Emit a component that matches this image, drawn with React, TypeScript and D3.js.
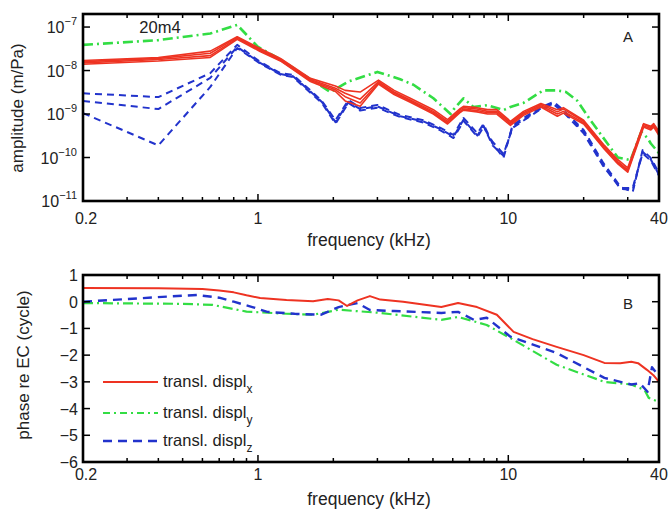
import React from "react";
import * as d3 from "d3";

// ---------- DATA ----------
const xTickLabels = ["0.2", "1", "10", "40"];
const xTickValues = [0.2, 1, 10, 40];
const xMinorTicks = [0.3, 0.4, 0.5, 0.6, 0.7, 0.8, 0.9, 2, 3, 4, 5, 6, 7, 8, 9, 20, 30];
const ampTickValues = [1e-7, 1e-8, 1e-9, 1e-10, 1e-11];
const ampTickExps = ["−7", "−8", "−9", "−10", "−11"];
const phaseTickValues = [1, 0, -1, -2, -3, -4, -5, -6];
const phaseTickLabels = ["1", "0", "−1", "−2", "−3", "−4", "−5", "−6"];

// amplitude, y (green dash-dot)
const greenFreq = [0.2, 0.4, 0.645, 0.826, 1.0, 1.23, 1.57, 1.95, 2.3, 3.0, 3.7, 4.18, 5.02, 5.88, 6.04, 6.62, 7.26, 8.26, 9.57, 10.2, 11.5, 13.8, 15.7, 17, 18.9, 21.3, 24.9, 27.4, 30.8, 34, 36, 37.1, 40];
const greenAmp = [3.9e-8, 5.0e-8, 7.1e-8, 1.12e-7, 3.5e-8, 1.8e-8, 7.1e-9, 3.2e-9, 5.6e-9, 9.3e-9, 6.3e-9, 4.7e-9, 2.3e-9, 1.0e-9, 1.26e-9, 2.3e-9, 1.45e-9, 1.6e-9, 1.23e-9, 1.45e-9, 1.8e-9, 3.5e-9, 3.5e-9, 3.2e-9, 2.0e-9, 7.2e-10, 2.1e-10, 1.0e-10, 8.7e-11, 3.9e-10, 2.8e-10, 2.1e-10, 1.26e-10];

// amplitude, x (red solid, four measurements)
const redFreq = [0.2, 0.4, 0.645, 0.826, 1.02, 1.23, 1.62, 2.04, 2.23, 2.56, 3.03, 3.5, 4.06, 5.02, 5.72, 6.44, 6.62, 7.5, 8.26, 9.0, 10.2, 11.5, 13.5, 15.7, 16.6, 20, 24.2, 27.4, 30, 34.7, 37.1, 38.1, 40];
const redAmp1 = [1.7e-8, 2.0e-8, 2.8e-8, 6.0e-8, 3.2e-8, 1.9e-8, 6.6e-9, 4.4e-9, 3.5e-9, 3.2e-9, 6.0e-9, 3.5e-9, 2.3e-9, 1.26e-9, 7.4e-10, 1.35e-9, 1.5e-9, 1.4e-9, 1.26e-9, 1.26e-9, 6.8e-10, 1.15e-9, 1.74e-9, 1.26e-9, 1.4e-9, 7.2e-10, 1.9e-10, 8.9e-11, 5.8e-11, 6.0e-10, 5.2e-10, 6.0e-10, 4.0e-10];
const redAmp2 = [1.6e-8, 1.9e-8, 2.5e-8, 5.8e-8, 3.0e-8, 1.8e-8, 6.2e-9, 3.9e-9, 3.0e-9, 2.2e-9, 5.6e-9, 3.2e-9, 2.1e-9, 1.15e-9, 6.8e-10, 1.26e-9, 1.4e-9, 1.3e-9, 1.15e-9, 1.15e-9, 6.3e-10, 1.07e-9, 1.66e-9, 1.12e-9, 1.3e-9, 6.8e-10, 1.8e-10, 8.1e-11, 5.2e-11, 5.8e-10, 4.9e-10, 5.8e-10, 3.7e-10];
const redAmp3 = [1.5e-8, 1.8e-8, 2.2e-8, 5.5e-8, 2.9e-8, 1.7e-8, 5.9e-9, 3.6e-9, 2.5e-9, 1.8e-9, 5.2e-9, 3.0e-9, 2.0e-9, 1.07e-9, 6.3e-10, 1.17e-9, 1.3e-9, 1.2e-9, 1.07e-9, 1.07e-9, 5.9e-10, 1.0e-9, 1.55e-9, 1.0e-9, 1.15e-9, 6.3e-10, 1.66e-10, 7.6e-11, 4.9e-11, 5.4e-10, 4.6e-10, 5.4e-10, 3.5e-10];
const redAmp4 = [1.4e-8, 1.66e-8, 2.0e-8, 5.2e-8, 2.75e-8, 1.66e-8, 5.6e-9, 3.3e-9, 2.0e-9, 1.5e-9, 4.9e-9, 2.8e-9, 1.86e-9, 1.0e-9, 5.9e-10, 1.1e-9, 1.23e-9, 1.12e-9, 1.0e-9, 1.0e-9, 5.5e-10, 9.3e-10, 1.45e-9, 8.9e-10, 1.05e-9, 5.9e-10, 1.55e-10, 7.1e-11, 4.6e-11, 5.0e-10, 4.3e-10, 5.0e-10, 3.2e-10];

// amplitude, z (blue dashed, three measurements)
const blueFreq = [0.2, 0.4, 0.645, 0.826, 1.02, 1.23, 1.38, 1.62, 1.8, 2.04, 2.3, 2.56, 3.0, 3.7, 4.58, 5.36, 6.04, 6.44, 6.62, 7.53, 7.96, 8.65, 9.57, 10.4, 13.5, 15.2, 16.6, 20, 24, 28.1, 31.4, 34.4, 37.1, 40];
const blueAmp1 = [3.0e-9, 2.45e-9, 8.7e-9, 3.9e-8, 1.58e-8, 8.7e-9, 7.9e-9, 3.5e-9, 2.0e-9, 7.2e-10, 2.1e-9, 1.38e-9, 1.62e-9, 9.5e-10, 7.2e-10, 4.8e-10, 3.3e-10, 6.2e-10, 8.1e-10, 3.6e-10, 5.9e-10, 2.1e-10, 9.8e-11, 5.6e-10, 1.45e-9, 1.9e-9, 1.23e-9, 4.3e-10, 7.4e-11, 2.1e-11, 1.6e-11, 1.48e-10, 9.8e-11, 4.4e-11];
const blueAmp2 = [2.0e-9, 1.3e-9, 6.8e-9, 3.5e-8, 1.5e-8, 8.3e-9, 7.4e-9, 3.3e-9, 1.9e-9, 6.5e-10, 1.9e-9, 1.3e-9, 1.5e-9, 8.9e-10, 6.8e-10, 4.5e-10, 3.0e-10, 5.6e-10, 7.4e-10, 3.2e-10, 5.4e-10, 1.9e-10, 1.1e-10, 5.1e-10, 1.35e-9, 1.75e-9, 1.15e-9, 3.9e-10, 6.6e-11, 1.9e-11, 1.8e-11, 1.35e-10, 9.0e-11, 4.0e-11];
const blueAmp3 = [1.05e-9, 1.9e-10, 4.2e-9, 3.3e-8, 1.45e-8, 8.0e-9, 7.1e-9, 3.1e-9, 1.8e-9, 6.0e-10, 1.8e-9, 1.2e-9, 1.4e-9, 8.5e-10, 6.4e-10, 4.2e-10, 2.8e-10, 5.2e-10, 7.0e-10, 3.0e-10, 5.0e-10, 2.3e-10, 1.2e-10, 4.8e-10, 1.3e-9, 1.65e-9, 1.1e-9, 3.6e-10, 6.2e-11, 2.0e-11, 2.0e-11, 1.25e-10, 8.5e-11, 3.8e-11];

// phase (cycles)
const redPhaseFreq = [0.2, 0.4, 0.6, 0.7, 0.8, 0.9, 1.02, 1.3, 1.66, 1.9, 2.1, 2.27, 2.5, 2.8, 3.08, 3.8, 5.4, 6.3, 7.5, 9.0, 10.5, 12.5, 15.6, 20, 24.2, 28, 31, 33, 35.8, 38, 40];
const redPhase = [0.51, 0.5, 0.48, 0.42, 0.35, 0.24, 0.14, 0.06, 0.02, 0.1, 0.05, -0.16, 0.05, 0.21, 0.08, 0.0, -0.2, -0.05, -0.2, -0.49, -1.13, -1.4, -1.69, -2.0, -2.29, -2.3, -2.25, -2.3, -2.55, -2.75, -3.0];
const greenPhaseFreq = [0.2, 0.5, 0.66, 0.9, 1.3, 1.66, 2.1, 3.08, 5.4, 6.3, 8.2, 10.5, 15.6, 24.2, 31, 35, 36.4, 40];
const greenPhase = [-0.05, -0.08, -0.12, -0.37, -0.45, -0.49, -0.3, -0.42, -0.68, -0.57, -0.87, -1.43, -2.36, -3.0, -3.1, -3.3, -3.6, -3.75];
const bluePhaseFreq = [0.2, 0.3, 0.45, 0.57, 0.7, 0.8, 0.95, 1.09, 1.4, 1.78, 2.1, 2.5, 2.8, 3.5, 5.4, 6.3, 7.3, 8.2, 10.2, 15.6, 24.2, 31, 33.5, 36, 37.5, 40];
const bluePhase = [0.0, 0.1, 0.2, 0.25, 0.15, 0.0, -0.2, -0.38, -0.45, -0.49, -0.2, -0.05, -0.31, -0.35, -0.42, -0.38, -0.68, -0.6, -1.31, -1.92, -2.85, -3.1, -3.05, -3.37, -2.45, -2.8];

const legendLabels = ["x", "y", "z"];

// ---------- STYLE ----------
const RED = "#ee3322";
const GREEN = "#33dd44";
const BLUE = "#2233cc";
const FONT = "'Liberation Sans', Arial, sans-serif";
const TXT = "#222";

const X0 = 83, X1 = 659;
const A_TOP = 14, A_BOT = 201;
const P_TOP = 275, P_BOT = 462;

const xScale = d3.scaleLog().domain([0.2, 40]).range([X0, X1]);
const ampScale = d3.scaleLog().domain([1e-11, Math.pow(10, -6.7)]).range([A_BOT, A_TOP]);
const phaseScale = d3.scaleLinear().domain([-6, 1]).range([P_BOT, P_TOP]);

function linePath(xs: number[], ys: number[], yScale: (v: number) => number) {
  const pts = xs.map((x, i) => [x, ys[i]] as [number, number]);
  return d3
    .line<[number, number]>()
    .x((d) => xScale(d[0]))
    .y((d) => yScale(d[1]))(pts) || "";
}

const dashBlue = "7,5";
const dashGreen = "10,4,2,4";

function Frame({ top, bot, yTicks, yScale }: { top: number; bot: number; yTicks: number[]; yScale: (v: number) => number }) {
  const majorLen = 7;
  const minorLen = 4;
  return (
    <g>
      {xTickValues.concat(xMinorTicks).map((v, i) => {
        const x = xScale(v);
        const len = i < xTickValues.length ? majorLen : minorLen;
        return (
          <g key={"xt" + i}>
            <line x1={x} x2={x} y1={bot} y2={bot - len} stroke="#000" strokeWidth={1.5} />
            <line x1={x} x2={x} y1={top} y2={top + len} stroke="#000" strokeWidth={1.5} />
          </g>
        );
      })}
      {yTicks.map((v, i) => {
        const y = yScale(v);
        return (
          <g key={"yt" + i}>
            <line x1={X0} x2={X0 + majorLen} y1={y} y2={y} stroke="#000" strokeWidth={1.5} />
            <line x1={X1} x2={X1 - majorLen} y1={y} y2={y} stroke="#000" strokeWidth={1.5} />
          </g>
        );
      })}
      <rect x={X0} y={top} width={X1 - X0} height={bot - top} fill="none" stroke="#000" strokeWidth={2.6} />
    </g>
  );
}

function XLabels({ baseline, titleY }: { baseline: number; titleY: number }) {
  return (
    <g fontFamily={FONT} fill={TXT}>
      {xTickValues.map((v, i) => (
        <text key={i} x={xScale(v) + (i === 0 ? 3 : 0)} y={baseline} fontSize={16} textAnchor="middle">
          {xTickLabels[i]}
        </text>
      ))}
      <text x={369} y={titleY} fontSize={17.5} textAnchor="middle">frequency (kHz)</text>
    </g>
  );
}

export default function App() {
  const redSets = [redAmp1, redAmp2, redAmp3, redAmp4];
  const blueSets = [blueAmp1, blueAmp2, blueAmp3];
  const legendY = [382, 413, 441];
  const legendColors = [RED, GREEN, BLUE];
  const legendDash = [undefined, "7,4,2,4", "9,6"];
  const legendWidth = [2, 2.2, 2.4];

  return (
    <svg width={671} height={510} style={{ position: "absolute", left: 0, top: 0, background: "#fff" }}>
      <rect x={0} y={0} width={671} height={510} fill="#fff" />
      <defs>
        <clipPath id="clipA">
          <rect x={X0} y={A_TOP} width={X1 - X0} height={A_BOT - A_TOP} />
        </clipPath>
        <clipPath id="clipB">
          <rect x={X0} y={P_TOP} width={X1 - X0} height={P_BOT - P_TOP} />
        </clipPath>
      </defs>
      {/* ---------- Panel A ---------- */}
      <g clipPath="url(#clipA)" fill="none" strokeLinejoin="round">
        {blueSets.map((s, i) => (
          <path key={"b" + i} d={linePath(blueFreq, s, ampScale)} stroke={BLUE} strokeWidth={2} strokeDasharray={dashBlue} />
        ))}
        <path d={linePath(greenFreq, greenAmp, ampScale)} stroke={GREEN} strokeWidth={2.6} strokeDasharray={dashGreen} />
        {redSets.map((s, i) => (
          <path key={"r" + i} d={linePath(redFreq, s, ampScale)} stroke={RED} strokeWidth={1.6} />
        ))}
      </g>
      <Frame top={A_TOP} bot={A_BOT} yTicks={ampTickValues} yScale={ampScale} />
      <g fontFamily={FONT} fill={TXT}>
        {ampTickValues.map((v, i) => (
          <text key={i} x={77} y={ampScale(v) + 6} fontSize={16} textAnchor="end">
            10
            <tspan dy={-8} fontSize={11}>{ampTickExps[i]}</tspan>
          </text>
        ))}
        <text x={160} y={33} fontSize={16.5} textAnchor="middle">20m4</text>
        <text x={628} y={42} fontSize={15} textAnchor="middle">A</text>
        <text transform={`translate(23,108) rotate(-90)`} fontSize={17} textAnchor="middle">amplitude (m/Pa)</text>
      </g>
      <XLabels baseline={224} titleY={246} />

      {/* ---------- Panel B ---------- */}
      <g clipPath="url(#clipB)" fill="none" strokeLinejoin="round">
        <path d={linePath(greenPhaseFreq, greenPhase, phaseScale)} stroke={GREEN} strokeWidth={2.2} strokeDasharray={dashGreen} />
        <path d={linePath(bluePhaseFreq, bluePhase, phaseScale)} stroke={BLUE} strokeWidth={2.4} strokeDasharray="9,6" />
        <path d={linePath(redPhaseFreq, redPhase, phaseScale)} stroke={RED} strokeWidth={2} />
      </g>
      <Frame top={P_TOP} bot={P_BOT} yTicks={phaseTickValues} yScale={phaseScale} />
      <g fontFamily={FONT} fill={TXT}>
        {phaseTickValues.map((v, i) => (
          <text key={i} x={78} y={phaseScale(v) + 6} fontSize={16} textAnchor="end">
            {phaseTickLabels[i]}
          </text>
        ))}
        <text x={628} y={309} fontSize={15} textAnchor="middle">B</text>
        <text transform={`translate(29,365) rotate(-90)`} fontSize={17} textAnchor="middle">phase re EC (cycle)</text>
      </g>
      <XLabels baseline={480} titleY={505} />

      {/* legend */}
      <g fontFamily={FONT} fill={TXT}>
        {legendLabels.map((lab, i) => (
          <g key={lab}>
            <line x1={103} x2={158} y1={legendY[i]} y2={legendY[i]} stroke={legendColors[i]} strokeWidth={legendWidth[i]} strokeDasharray={legendDash[i]} />
            <text x={163} y={legendY[i] + 5} fontSize={16.5}>
              transl. displ
              <tspan dy={6} fontSize={12}>{lab}</tspan>
            </text>
          </g>
        ))}
      </g>
    </svg>
  );
}
